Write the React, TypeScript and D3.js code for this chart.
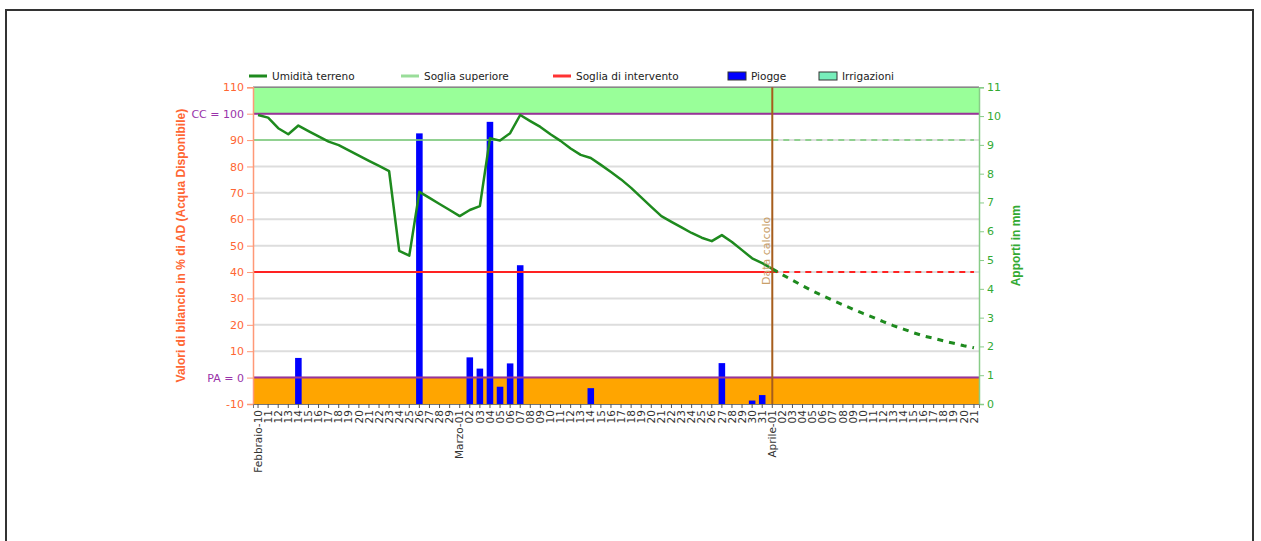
import * as d3 from "d3";
import React, { useRef, useEffect } from "react";

// categories: one per day, Feb 10 -> Apr 21 (leap year)
const months = [
	{ name: "Febbraio", from: 10, to: 29 },
	{ name: "Marzo", from: 1, to: 31 },
	{ name: "Aprile", from: 1, to: 21 },
];
const days: string[] = [];
const dayLabels: string[] = [];
months.forEach((m) => {
	for (let d = m.from; d <= m.to; d++) {
		const dd = String(d).padStart(2, "0");
		days.push(`${m.name}-${dd}`);
		dayLabels.push(d === m.from ? `${m.name}-${dd}` : dd);
	}
});

// soil moisture (% AD), measured part Feb 10 -> Apr 01
const umidita = [
	99.5, 98.5, 94.5, 92.2, 95.5, 93.4, 91.4, 89.4, 88.1, 86.1, 84.1, 82.1,
	80.2, 78.2, 48.0, 46.2, 70.4, 68.1, 65.8, 63.5, 61.2, 63.5, 65.0, 90.7,
	89.8, 92.6, 99.5, 97.2, 95.0, 92.2, 89.7, 86.8, 84.4, 83.2, 80.6, 77.9,
	75.1, 71.9, 68.3, 64.7, 61.2, 59.0, 56.9, 54.8, 53.0, 51.7, 54.0, 51.4,
	48.3, 45.2, 43.4, 41.2,
];
// forecast Apr 01 -> Apr 21
const previsione = [
	41.2, 39.0, 36.9, 34.8, 32.8, 31.0, 29.3, 27.6, 25.9, 24.3, 22.8, 21.2,
	19.7, 18.4, 17.0, 15.8, 14.9, 13.9, 13.0, 12.1, 11.3,
];
const pioggeGiorni = [
	"Febbraio-14", "Febbraio-26", "Marzo-02", "Marzo-03", "Marzo-04", "Marzo-05",
	"Marzo-06", "Marzo-07", "Marzo-14", "Marzo-27", "Marzo-30", "Marzo-31",
];
const pioggeMm = [1.6, 9.4, 1.62, 1.23, 9.8, 0.6, 1.41, 4.82, 0.55, 1.42, 0.12, 0.31];

const dataCalcolo = "Aprile-01";
const sogliaSuperiore = 90;
const sogliaIntervento = 40;
const CC = 100;
const PA = 0;
const leftTicks = d3.range(-10, 111, 10);
const rightTicks = d3.range(0, 12, 1);

const legendItems = [
	{ label: "Umidità terreno", kind: "line", color: "#1e8a1e", x: 249 },
	{ label: "Soglia superiore", kind: "line", color: "#99dd99", x: 401 },
	{ label: "Soglia di intervento", kind: "line", color: "#ff3333", x: 553 },
	{ label: "Piogge", kind: "rect", color: "#0000ff", x: 728 },
	{ label: "Irrigazioni", kind: "rect", color: "#77eebb", x: 819 },
];

const plot = { left: 253, right: 979, top: 87.3, bottom: 404 };
const font = "DejaVu Sans, Verdana, sans-serif";

const App = () => {
	const ref = useRef<SVGSVGElement>(null);

	useEffect(() => {
		if (!ref.current) return;
		const svg = d3.select(ref.current);
		svg.selectAll("*").remove();

		const x = d3.scaleBand().domain(days).range([plot.left, plot.right]);
		const xc = (d: string) => (x(d) as number) + x.bandwidth() / 2;
		const yL = d3.scaleLinear().domain([-10, 110]).range([plot.bottom, plot.top]);
		const yR = d3.scaleLinear().domain([0, 11]).range([plot.bottom, plot.top]);
		const xCalc = xc(dataCalcolo);

		// frame
		svg.append("rect")
			.attr("x", 6).attr("y", 10).attr("width", 1247).attr("height", 560)
			.attr("fill", "white").attr("stroke", "#333").attr("stroke-width", 2);

		const g = svg.append("g");

		// grid
		g.selectAll(".grid")
			.data(leftTicks)
			.enter()
			.append("line")
			.attr("x1", plot.left).attr("x2", plot.right)
			.attr("y1", (d) => yL(d)).attr("y2", (d) => yL(d))
			.attr("stroke", "#dddddd").attr("stroke-width", 2);

		// bands
		g.append("rect")
			.attr("x", plot.left).attr("width", plot.right - plot.left)
			.attr("y", yL(110)).attr("height", yL(CC) - yL(110))
			.attr("fill", "#99ff99");
		g.append("rect")
			.attr("x", plot.left).attr("width", plot.right - plot.left)
			.attr("y", yL(PA)).attr("height", yL(-10) - yL(PA))
			.attr("fill", "#ffa500");
		g.append("line")
			.attr("x1", plot.left).attr("x2", plot.right)
			.attr("y1", yL(110)).attr("y2", yL(110))
			.attr("stroke", "#888").attr("stroke-width", 1.5);

		// rain bars
		const bw = x.bandwidth() * 0.65;
		g.selectAll(".bar")
			.data(pioggeGiorni)
			.enter()
			.append("rect")
			.attr("x", (d) => xc(d) - bw / 2)
			.attr("width", bw)
			.attr("y", (d, i) => yR(pioggeMm[i]))
			.attr("height", (d, i) => yR(0) - yR(pioggeMm[i]))
			.attr("fill", "#0000ff");

		// threshold lines
		const hline = (v: number, color: string, w: number) => {
			g.append("line")
				.attr("x1", plot.left).attr("x2", xCalc)
				.attr("y1", yL(v)).attr("y2", yL(v))
				.attr("stroke", color).attr("stroke-width", w);
			g.append("line")
				.attr("x1", xCalc).attr("x2", xc(days[days.length - 1]))
				.attr("y1", yL(v)).attr("y2", yL(v))
				.attr("stroke", color).attr("stroke-width", w)
				.attr("stroke-dasharray", "6,5");
		};
		hline(sogliaSuperiore, "#77cc77", 1.5);
		hline(sogliaIntervento, "#ff2222", 2);

		[CC, PA].forEach((v) =>
			g.append("line")
				.attr("x1", plot.left).attr("x2", plot.right)
				.attr("y1", yL(v)).attr("y2", yL(v))
				.attr("stroke", "#993399").attr("stroke-width", 2)
		);

		// moisture line
		const line = d3.line<number>().y((v) => yL(v));
		g.append("path")
			.datum(umidita)
			.attr("d", line.x((v, i) => xc(days[i])))
			.attr("fill", "none").attr("stroke", "#1e8a1e").attr("stroke-width", 2.5)
			.attr("stroke-linejoin", "round");
		const start = days.indexOf(dataCalcolo);
		g.append("path")
			.datum(previsione)
			.attr("d", line.x((v, i) => xc(days[start + i])))
			.attr("fill", "none").attr("stroke", "#1e8a1e").attr("stroke-width", 3)
			.attr("stroke-dasharray", "6,6");

		// data calcolo
		g.append("line")
			.attr("x1", xCalc).attr("x2", xCalc)
			.attr("y1", plot.top).attr("y2", plot.bottom)
			.attr("stroke", "#a65d1c").attr("stroke-width", 2);
		g.append("text")
			.attr("transform", `translate(${xCalc - 2},285) rotate(-90)`)
			.attr("font-family", font).attr("font-size", 11)
			.attr("fill", "#c9a06a")
			.text("Data calcolo");

		// left axis
		const axL = g.append("g")
			.attr("transform", `translate(${plot.left},0)`)
			.call(
				d3.axisLeft(yL)
					.tickValues(leftTicks)
					.tickSize(6)
					.tickFormat((v: any) => (v === CC ? "CC = 100" : v === PA ? "PA = 0" : `${v}`))
			);
		axL.select(".domain").attr("stroke", "#ff9977").attr("stroke-width", 1.5);
		axL.selectAll(".tick line").attr("stroke", "#ff9977");
		axL.selectAll(".tick text")
			.attr("font-family", font).attr("font-size", 11)
			.attr("fill", (v: any) => (v === CC || v === PA ? "#9933aa" : "#ff6633"));

		// right axis
		const axR = g.append("g")
			.attr("transform", `translate(${plot.right},0)`)
			.call(d3.axisRight(yR).tickValues(rightTicks).tickSize(5));
		axR.select(".domain").attr("stroke", "#88cc88").attr("stroke-width", 1.5);
		axR.selectAll(".tick line").attr("stroke", "#88cc88");
		axR.selectAll(".tick text")
			.attr("font-family", font).attr("font-size", 11).attr("fill", "#33aa33");

		// bottom axis
		const axB = g.append("g")
			.attr("transform", `translate(0,${plot.bottom})`)
			.call(d3.axisBottom(x).tickSize(4).tickFormat((d: any, i: number) => dayLabels[i]));
		axB.select(".domain").attr("stroke", "#777");
		axB.selectAll(".tick line").attr("stroke", "#555");
		axB.selectAll(".tick text")
			.attr("font-family", font).attr("font-size", 10.5).attr("fill", "#333")
			.attr("transform", "rotate(-90)")
			.attr("text-anchor", "end")
			.attr("x", -6).attr("y", 0).attr("dy", "0.35em");

		// axis titles
		svg.append("text")
			.attr("transform", `translate(185,${(plot.top + plot.bottom) / 2}) rotate(-90)`)
			.attr("text-anchor", "middle")
			.attr("font-family", "Liberation Sans, Arial, sans-serif")
			.attr("font-size", 12).attr("font-weight", "bold").attr("fill", "#ff6633")
			.text("Valori di bilancio in % di AD (Acqua Disponibile)");
		svg.append("text")
			.attr("transform", `translate(1020,${(plot.top + plot.bottom) / 2}) rotate(-90)`)
			.attr("text-anchor", "middle")
			.attr("font-family", "Liberation Sans, Arial, sans-serif")
			.attr("font-size", 12).attr("font-weight", "bold").attr("fill", "#33aa33")
			.text("Apporti in mm");

		// legend
		const lg = svg.append("g").attr("transform", "translate(0,76)");
		legendItems.forEach((it) => {
			if (it.kind === "line") {
				lg.append("line")
					.attr("x1", it.x).attr("x2", it.x + 18)
					.attr("y1", 0).attr("y2", 0)
					.attr("stroke", it.color).attr("stroke-width", 3);
			} else {
				lg.append("rect")
					.attr("x", it.x).attr("y", -4).attr("width", 18).attr("height", 8)
					.attr("fill", it.color).attr("stroke", "#333").attr("stroke-width", 1);
			}
			lg.append("text")
				.attr("x", it.x + 23).attr("y", 4)
				.attr("font-family", font).attr("font-size", 10.5).attr("fill", "#222")
				.text(it.label);
		});
	}, []);

	return (
		<svg
			ref={ref}
			width={1261}
			height={541}
			style={{ position: "absolute", left: 0, top: 0, background: "white" }}
		/>
	);
};

export default App;
